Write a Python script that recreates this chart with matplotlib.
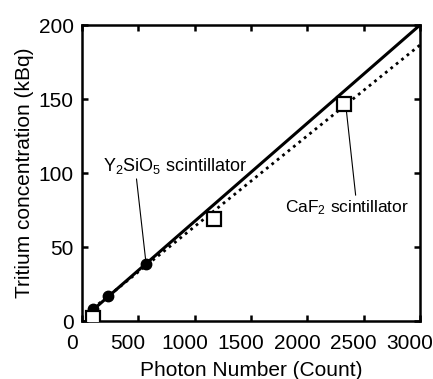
import matplotlib
matplotlib.use('Agg')
from matplotlib import pyplot as plt
from matplotlib.transforms import ScaledTranslation

plt.rcParams['font.family'] = ['Liberation Sans', 'DejaVu Sans']
plt.rcParams['mathtext.default'] = 'regular'

# Y2SiO5 scintillator points and fitted line
yso_counts = [100, 233, 565]
yso_kbq = [7.8, 16.9, 38.5]
yso_fit_counts = [100, 3000]
yso_fit_kbq = [7.6, 200]

# CaF2 scintillator points and fitted line
caf_counts = [100, 1170, 2323]
caf_kbq = [1.8, 69, 146.5]
caf_fit_counts = [100, 3000]
caf_fit_kbq = [8.6, 186.5]

x_ticks = [0, 500, 1000, 1500, 2000, 2500, 3000]
y_ticks = [0, 50, 100, 150, 200]

fig = plt.figure(figsize=(4.33, 3.79), dpi=100)
ax = fig.add_axes([0.189, 0.153, 0.781, 0.781])

ax.plot(yso_fit_counts, yso_fit_kbq, color='black', lw=2.2, zorder=2)
ax.plot(caf_fit_counts, caf_fit_kbq, color='black', lw=2.0,
        linestyle=(0, (1, 1.5)), zorder=2)
ax.plot(yso_counts, yso_kbq, 'o', color='black', ms=7.5, zorder=3)
ax.plot(caf_counts, caf_kbq, 's', mfc='white', mec='black', mew=1.6,
        ms=9.5, zorder=4)

ax.set_xlim(0, 3000)
ax.set_ylim(0, 200)
ax.set_xticks(x_ticks)
ax.set_yticks(y_ticks)
ax.tick_params(direction='in', length=4.5, width=1.8, top=True, right=True,
               labelsize=15)
ax.tick_params(axis='x', pad=9)
ax.tick_params(axis='y', pad=6)
for s in ax.spines.values():
    s.set_linewidth(1.8)

# x tick labels sit a bit left of their ticks in the original
shift = ScaledTranslation(-10 / 100, 0, fig.dpi_scale_trans)
for lab in ax.get_xticklabels():
    lab.set_transform(lab.get_transform() + shift)

ax.set_xlabel('Photon Number (Count)', fontsize=15, labelpad=6)
ax.set_ylabel('Tritium concentration (kBq)', fontsize=15, labelpad=3)

ax.annotate('', xy=(565, 42), xytext=(485, 96),
            arrowprops=dict(arrowstyle='-', lw=0.8, shrinkA=0, shrinkB=0))
ax.text(186, 104.7, 'Y$_2$SiO$_5$ scintillator', fontsize=13, va='center')

ax.annotate('', xy=(2347, 142), xytext=(2429, 85),
            arrowprops=dict(arrowstyle='-', lw=0.8, shrinkA=0, shrinkB=0))
ax.text(1800, 76.4, 'CaF$_2$ scintillator', fontsize=12.5, va='center')

fig.savefig('out.png', dpi=100)
